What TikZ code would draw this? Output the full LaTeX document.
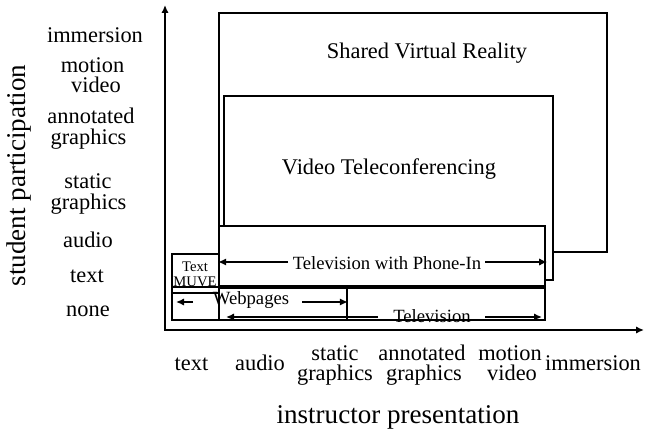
\documentclass[tikz,border=0pt]{standalone}
\usepackage{fontspec}
\setmainfont{Liberation Serif}
\usetikzlibrary{arrows.meta,fit}
\begin{document}
\begin{tikzpicture}[x=0.75pt,y=-0.75pt,
  lw/.style={line width=1.3pt},
  box/.style={draw,lw,inner sep=0pt},
  wbox/.style={box,fill=white},
  tip/.style={Latex[length=6pt,width=5.5pt]},
  arr/.style={lw,-{Latex[length=6pt,width=5.5pt]}},
  lab/.style={font=\fontsize{16.8}{18}\selectfont,anchor=base,inner sep=0pt},
  ttl/.style={font=\fontsize{20.3}{22}\selectfont,anchor=base,inner sep=0pt},
  blab/.style={font=\fontsize{14}{16}\selectfont,anchor=base,inner sep=0pt},
  slab/.style={font=\fontsize{11}{12}\selectfont,anchor=base,inner sep=0pt}]
\useasboundingbox (0,0) rectangle (645,431);

% axes
\coordinate (O) at (165,330);
\coordinate (Ytip) at (165,5);
\coordinate (Xtip) at (644,330);
\draw[lw,{Latex[length=6pt,width=5.5pt]}-{Latex[length=6pt,width=5.5pt]}] (Ytip) -- (O) -- (Xtip);

% boxes
\node[wbox,fit={(219,13) (607,252)}] (svr) {};
\node[wbox,fit={(224,96) (553,280)}] (vtc) {};
\node[wbox,fit={(219,226) (545,286)}] (tvpi) {};
\node[box,fit={(219,288) (545,320)}] (tv) {};
\node[box,fit={(172,287) (347,320)}] (wp) {};
\node[box,fit={(172,254) (219,293)}] (muve) {};

% box labels
\node[lab] (svrl) at (427,59) {Shared Virtual Reality};
\node[lab] (vtcl) at (389,174) {Video Teleconferencing};
\node[blab] (tvpil) at (387,269) {Television with Phone-In};
\node[blab] (wpl) at (251,304) {Webpages};
\node[blab] (tvl) at (432,322) {Television};
\node[slab] (muve1) at (195,271) {Text};
\node[slab] (muve2) at (195,286) {MUVE};

% arrows inside boxes
\coordinate (tvpiY) at (0,262);
\coordinate (wpY) at (0,302);
\coordinate (tvY) at (0,317);
\coordinate (tvpiLt) at (288,262);
\coordinate (tvpiRt) at (485,262);
\coordinate (wpLt) at (193,302);
\coordinate (wpLh) at (176,302);
\coordinate (wpRt) at (302,302);
\coordinate (tvLt) at (378,317);
\coordinate (tvLh) at (226,317);
\coordinate (tvRt) at (485,317);
\coordinate (tvRh) at (542,317);
\draw[arr] (tvpiLt) -- (tvpi.west |- tvpiY);
\draw[arr] (tvpiRt) -- ([xshift=1pt]tvpi.east |- tvpiY);
\draw[arr] (wpLt) -- (wpLh);
\draw[arr] (wpRt) -- (wp.east |- wpY);
\draw[arr] (tvLt) -- (tvLh);
\draw[arr] (tvRt) -- (tvRh);

% y tick labels
\node[lab] (yimm) at (95,43) {immersion};
\node[lab] (ymot1) at (92.5,73) {motion};
\node[lab] (ymot2) at (96,93) {video};
\node[lab] (yann1) at (91,123) {annotated};
\node[lab] (yann2) at (88.5,145) {graphics};
\node[lab] (ysta1) at (88,188) {static};
\node[lab] (ysta2) at (88.5,209) {graphics};
\node[lab] (yaud) at (88,247) {audio};
\node[lab] (ytxt) at (87,282) {text};
\node[lab] (ynon) at (88,316) {none};

% x tick labels
\node[lab] (xtxt) at (191.5,370) {text};
\node[lab] (xaud) at (260,370) {audio};
\node[lab] (xsta1) at (335,360) {static};
\node[lab] (xsta2) at (335,380) {graphics};
\node[lab] (xann1) at (422,360) {annotated};
\node[lab] (xann2) at (424,380) {graphics};
\node[lab] (xmot1) at (510,360) {motion};
\node[lab] (xmot2) at (512,380) {video};
\node[lab] (ximm) at (593,370) {immersion};

% axis titles
\node[ttl] (xt) at (398,423) {instructor presentation};
\node[ttl,rotate=90] (yt) at (26,175.5) {student participation};
\end{tikzpicture}
\end{document}
